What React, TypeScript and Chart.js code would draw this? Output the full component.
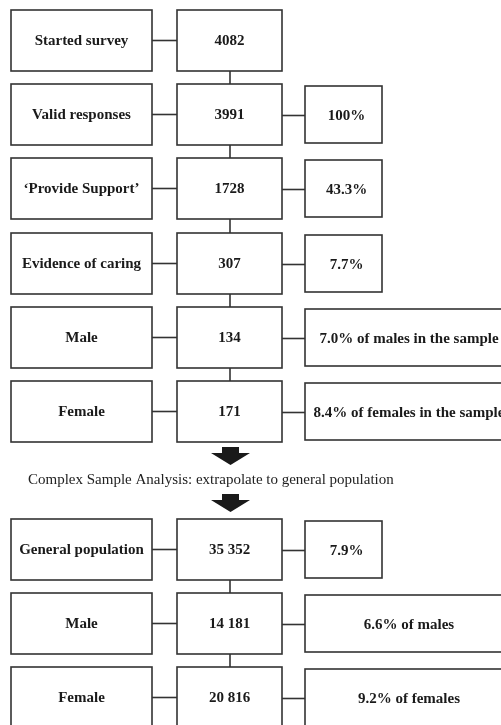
import React, { useEffect, useRef } from "react";
import { Chart, registerables } from "chart.js";

Chart.register(...registerables);

const stageLabels = [
  "Started survey",
  "Valid responses",
  "\u2018Provide Support\u2019",
  "Evidence of caring",
  "Male",
  "Female",
  "General population",
  "Male",
  "Female",
];
const counts = ["4082", "3991", "1728", "307", "134", "171", "35 352", "14 181", "20 816"];
const percents = [
  "",
  "100%",
  "43.3%",
  "7.7%",
  "7.0% of males in the sample",
  "8.4% of females in the sample",
  "7.9%",
  "6.6% of males",
  "9.2% of females",
];
const caption = "Complex Sample Analysis: extrapolate to general population";

// layout (in page-pixel units of the hidden linear scales)
const W = 501;
const H = 725;
const rowTops = [10, 84, 158, 233, 307, 381, 519, 593, 667];
const BOX_H = 61;
const LEFT = [11, 152];
const MID = [177, 282];
const RIGHT_SHORT = [305, 382];
const RIGHT_LONG = [305, 513];
const LINK_X = 230;

const flowPlugin = {
  id: "flow",
  afterDraw(chart: any) {
    const ctx = chart.ctx as CanvasRenderingContext2D;
    const xs = chart.scales.x;
    const ys = chart.scales.y;
    const px = (v: number) => xs.getPixelForValue(v);
    const py = (v: number) => ys.getPixelForValue(v);
    ctx.save();
    ctx.strokeStyle = "#333";
    ctx.fillStyle = "#1a1a1a";
    ctx.lineWidth = 1.6;
    ctx.textAlign = "center";
    ctx.textBaseline = "middle";

    const rect = (x0: number, x1: number, y0: number, y1: number) => {
      ctx.strokeRect(px(x0), py(y0), px(x1) - px(x0), py(y1) - py(y0));
    };
    const line = (x0: number, y0: number, x1: number, y1: number) => {
      ctx.beginPath();
      ctx.moveTo(px(x0), py(y0));
      ctx.lineTo(px(x1), py(y1));
      ctx.stroke();
    };
    const text = (s: string, x: number, y: number) => {
      ctx.fillText(s, px(x), py(y));
    };

    ctx.font = "bold 15px 'Liberation Serif', 'Times New Roman', serif";
    stageLabels.forEach((lab, i) => {
      const top = rowTops[i];
      const mid = top + BOX_H / 2;
      rect(LEFT[0], LEFT[1], top, top + BOX_H);
      text(lab, (LEFT[0] + LEFT[1]) / 2, mid + 1);
      line(LEFT[1], mid, MID[0], mid);
      rect(MID[0], MID[1], top, top + BOX_H);
      text(counts[i], (MID[0] + MID[1]) / 2, mid + 1);
      const p = percents[i];
      if (p) {
        const long = p.length > 8;
        const r = long ? RIGHT_LONG : RIGHT_SHORT;
        line(MID[1], mid + 1, r[0], mid + 1);
        rect(r[0], r[1], top + 2, top + BOX_H - 2);
        text(p, (r[0] + r[1]) / 2 + (long ? 0 : 3), mid + 2);
      }
      const next = rowTops[i + 1];
      if (next !== undefined && i !== 5) {
        line(LINK_X, top + BOX_H, LINK_X, next);
      }
    });

    // arrows
    const arrow = (yTop: number) => {
      ctx.beginPath();
      ctx.moveTo(px(222), py(yTop));
      ctx.lineTo(px(239), py(yTop));
      ctx.lineTo(px(239), py(yTop + 6));
      ctx.lineTo(px(250), py(yTop + 6));
      ctx.lineTo(px(230.5), py(yTop + 18));
      ctx.lineTo(px(211), py(yTop + 6));
      ctx.lineTo(px(222), py(yTop + 6));
      ctx.closePath();
      ctx.fillStyle = "#1a1a1a";
      ctx.fill();
    };
    arrow(447);
    arrow(494);

    ctx.font = "15px 'Liberation Serif', 'Times New Roman', serif";
    ctx.textAlign = "left";
    ctx.fillStyle = "#222";
    text(caption, 28, 480);
    ctx.restore();
  },
};

export default function App() {
  const ref = useRef<HTMLCanvasElement | null>(null);
  useEffect(() => {
    if (!ref.current) return;
    const chart = new Chart(ref.current, {
      type: "scatter",
      data: {
        datasets: [
          {
            data: counts.map((_, i) => ({ x: (MID[0] + MID[1]) / 2, y: rowTops[i] + BOX_H / 2 })),
            pointRadius: 0,
            showLine: false,
          },
        ],
      },
      options: {
        animation: false,
        responsive: false,
        events: [],
        layout: { padding: 0 },
        plugins: { legend: { display: false }, tooltip: { enabled: false } },
        scales: {
          x: { type: "linear", min: 0, max: W, display: false },
          y: { type: "linear", min: 0, max: H, reverse: true, display: false },
        },
      },
      plugins: [flowPlugin],
    });
    return () => chart.destroy();
  }, []);
  return (
    <div style={{ position: "fixed", left: 0, top: 0, width: W, height: H, background: "#fff" }}>
      <canvas ref={ref} width={W} height={H} style={{ display: "block" }} />
    </div>
  );
}
